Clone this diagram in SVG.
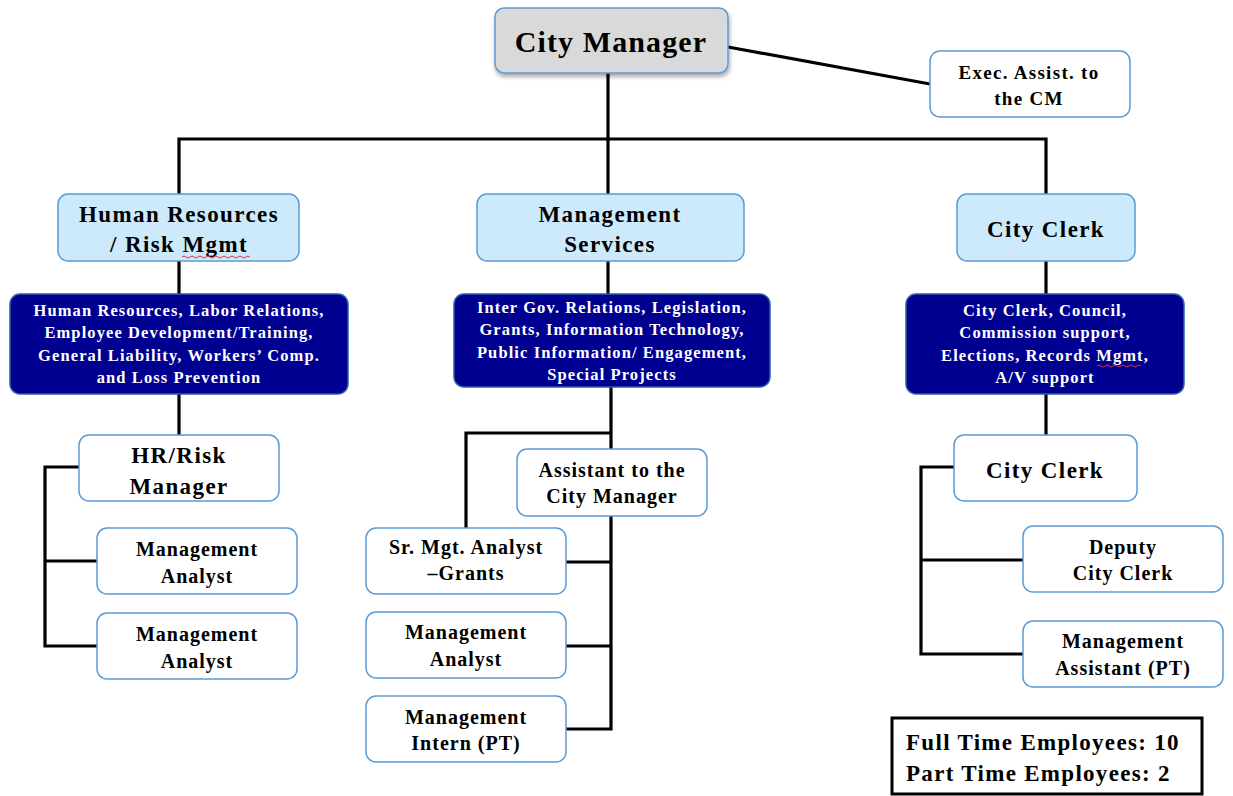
<svg xmlns="http://www.w3.org/2000/svg" width="1233" height="796" viewBox="0 0 1233 796">
<defs>
<filter id="sh" x="-10%" y="-10%" width="130%" height="140%">
<feDropShadow dx="1" dy="3" stdDeviation="2" flood-color="#000" flood-opacity="0.35"/>
</filter>
</defs>
<style>
text{font-family:"Liberation Serif","Times New Roman",serif;font-weight:bold;text-anchor:middle;fill:#000}
.lt{fill:#fff;stroke:#5b9bd5;stroke-width:1.5}
.lb{fill:#cdeafc;stroke:#5b9bd5;stroke-width:1.5}
.dk{fill:#000090;stroke:#2e5fa8;stroke-width:1.5}
.cm{fill:#d9d9d9;stroke:#5b9bd5;stroke-width:1.5}
.w{fill:#fff;font-size:16.5px;letter-spacing:1.1px}
.t20{font-size:20px;letter-spacing:1px}
.t23{font-size:23px;letter-spacing:1.4px}
.conn line,.conn polyline{stroke:#000;stroke-width:3.2;fill:none}
.sq{stroke:#e03030;stroke-width:1;fill:none}
</style>
<rect width="1233" height="796" fill="#fff"/>
<g class="conn" id="connectors">
<line x1="728" y1="47" x2="930" y2="84"/>
<line x1="608" y1="73" x2="608" y2="139"/>
<polyline points="179,194 179,139 1046,139 1046,194"/>
<line x1="608" y1="139" x2="608" y2="194"/>
<line x1="179" y1="261" x2="179" y2="294"/>
<line x1="608" y1="261" x2="608" y2="294"/>
<line x1="1046" y1="261" x2="1046" y2="294"/>
<line x1="179" y1="394" x2="179" y2="435"/>
<line x1="1046" y1="394" x2="1046" y2="435"/>
<polyline points="79,467 45,467 45,646 97,646"/>
<line x1="45" y1="561" x2="97" y2="561"/>
<polyline points="611,387 611,729 566,729"/>
<polyline points="466,528 466,433 611,433"/>
<line x1="566" y1="562" x2="611" y2="562"/>
<line x1="566" y1="646" x2="611" y2="646"/>
<polyline points="954,467 921,467 921,654 1023,654"/>
<line x1="921" y1="560" x2="1023" y2="560"/>
</g>
<g id="city-manager">
<rect class="cm" x="495" y="8" width="233" height="65" rx="9" filter="url(#sh)"/>
<text x="611" y="52" style="font-size:30px;letter-spacing:1.1px">City Manager</text>
</g>
<g id="exec-assist">
<rect class="lt" x="930" y="51" width="200" height="66" rx="10"/>
<text x="1029" y="79" style="font-size:19px;letter-spacing:1.3px">Exec. Assist. to</text>
<text x="1029" y="105" style="font-size:19px;letter-spacing:1.3px">the CM</text>
</g>
<g id="hr-risk-mgmt">
<rect class="lb" x="58" y="194" width="241" height="67" rx="10"/>
<text class="t23" x="179" y="222">Human Resources</text>
<text class="t23" x="179" y="252">/ Risk Mgmt</text>
<path class="sq" d="M182,257 q2,-2 4,0 t4,0 t4,0 t4,0 t4,0 t4,0 t4,0 t4,0 t4,0 t4,0 t4,0 t4,0 t4,0 t4,0 t4,0 t4,0 t4,0"/>
</g>
<g id="mgmt-services">
<rect class="lb" x="477" y="194" width="267" height="67" rx="10"/>
<text class="t23" x="610" y="222">Management</text>
<text class="t23" x="610" y="252">Services</text>
</g>
<g id="city-clerk-dept">
<rect class="lb" x="957" y="194" width="178" height="67" rx="10"/>
<text class="t23" x="1046" y="237">City Clerk</text>
</g>
<g id="hr-functions">
<rect class="dk" x="10" y="294" width="338" height="100" rx="10"/>
<text class="w" x="179" y="316">Human Resources, Labor Relations,</text>
<text class="w" x="179" y="338">Employee Development/Training,</text>
<text class="w" x="179" y="361">General Liability, Workers’ Comp.</text>
<text class="w" x="179" y="383">and Loss Prevention</text>
</g>
<g id="ms-functions">
<rect class="dk" x="454" y="294" width="316" height="93" rx="10"/>
<text class="w" x="612" y="313">Inter Gov. Relations, Legislation,</text>
<text class="w" x="612" y="335">Grants, Information Technology,</text>
<text class="w" x="612" y="358">Public Information/ Engagement,</text>
<text class="w" x="612" y="380">Special Projects</text>
</g>
<g id="cc-functions">
<rect class="dk" x="906" y="294" width="278" height="100" rx="10"/>
<text class="w" x="1045" y="316">City Clerk, Council,</text>
<text class="w" x="1045" y="338">Commission support,</text>
<text class="w" x="1045" y="361">Elections, Records Mgmt,</text>
<text class="w" x="1045" y="383">A/V  support</text>
<path class="sq" d="M1097,366 q2,-2 4,0 t4,0 t4,0 t4,0 t4,0 t4,0 t4,0 t4,0 t4,0 t4,0 t4,0"/>
</g>
<g id="hr-risk-manager">
<rect class="lt" x="79" y="435" width="200" height="66" rx="10"/>
<text class="t23" x="179" y="463">HR/Risk</text>
<text class="t23" x="179" y="494">Manager</text>
</g>
<g id="hr-analyst-1">
<rect class="lt" x="97" y="528" width="200" height="66" rx="10"/>
<text class="t20" x="197" y="556">Management</text>
<text class="t20" x="197" y="583">Analyst</text>
</g>
<g id="hr-analyst-2">
<rect class="lt" x="97" y="613" width="200" height="66" rx="10"/>
<text class="t20" x="197" y="641">Management</text>
<text class="t20" x="197" y="668">Analyst</text>
</g>
<g id="assistant-cm">
<rect class="lt" x="517" y="449" width="190" height="67" rx="10"/>
<text class="t20" x="612" y="477">Assistant to the</text>
<text class="t20" x="612" y="503">City Manager</text>
</g>
<g id="sr-mgt-analyst">
<rect class="lt" x="366" y="528" width="200" height="66" rx="10"/>
<text class="t20" x="466" y="554">Sr. Mgt. Analyst</text>
<text class="t20" x="466" y="580">–Grants</text>
</g>
<g id="ms-analyst">
<rect class="lt" x="366" y="612" width="200" height="66" rx="10"/>
<text class="t20" x="466" y="639">Management</text>
<text class="t20" x="466" y="666">Analyst</text>
</g>
<g id="ms-intern">
<rect class="lt" x="366" y="696" width="200" height="66" rx="10"/>
<text class="t20" x="466" y="724">Management</text>
<text class="t20" x="466" y="750">Intern (PT)</text>
</g>
<g id="city-clerk">
<rect class="lt" x="954" y="435" width="183" height="66" rx="10"/>
<text class="t23" x="1045" y="478">City Clerk</text>
</g>
<g id="deputy-clerk">
<rect class="lt" x="1023" y="526" width="200" height="66" rx="10"/>
<text class="t20" x="1123" y="554">Deputy</text>
<text class="t20" x="1123" y="580">City Clerk</text>
</g>
<g id="mgmt-assistant">
<rect class="lt" x="1023" y="621" width="200" height="66" rx="10"/>
<text class="t20" x="1123" y="648">Management</text>
<text class="t20" x="1123" y="675">Assistant (PT)</text>
</g>
<g id="legend">
<rect x="892" y="718" width="310" height="76" fill="#fff" stroke="#000" stroke-width="3"/>
<text x="906" y="750" style="font-size:23px;letter-spacing:1.3px;text-anchor:start">Full Time Employees: 10</text>
<text x="906" y="781" style="font-size:23px;letter-spacing:1.3px;text-anchor:start">Part Time Employees: 2</text>
</g>
</svg>
